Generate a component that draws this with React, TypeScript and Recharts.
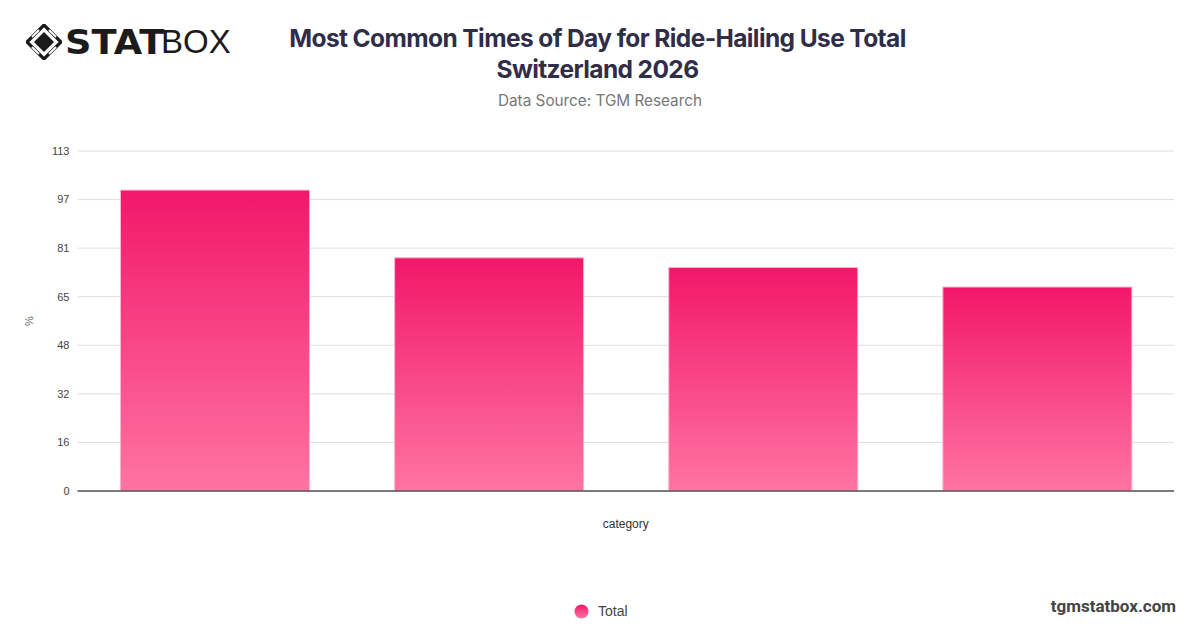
import React from 'react';
import { BarChart, Bar, XAxis, YAxis, CartesianGrid } from 'recharts';

const categories = ['Morning', 'Afternoon', 'Evening', 'Night'];
const totalValues = [100, 77.5, 74.3, 67.8];
const yTicks = [0, 16.14, 32.29, 48.43, 64.57, 80.71, 96.86, 113];

const chartData = categories.map((name, i) => ({ name, Total: totalValues[i] }));

const Logo = () => (
  <div style={{ position: 'absolute', left: 26, top: 22, display: 'flex', alignItems: 'center' }}>
    <svg width="36" height="36" viewBox="0 0 36 36">
      <path d="M18 1 L35 18 L18 35 L1 18 Z" fill="none" stroke="#1b1b1b" strokeWidth="3.2" />
      <path d="M18 8 L28 18 L18 28 L8 18 Z" fill="#1b1b1b" />
      <path d="M6 13 L13 6 M30 13 L23 6 M6 23 L13 30 M30 23 L23 30" stroke="#fff" strokeWidth="2" />
    </svg>
    <span style={{ fontFamily: '"DejaVu Sans", sans-serif', fontWeight: 900, fontSize: 34, color: '#1b1b1b', marginLeft: 3, letterSpacing: 0, display: 'inline-block', transform: 'scaleX(1.08)', transformOrigin: 'left center', width: 96 }}>STAT</span>
    <span style={{ fontFamily: '"Liberation Sans", sans-serif', fontWeight: 300, fontSize: 33, color: '#1b1b1b', marginLeft: 0 }}>BOX</span>
  </div>
);

const YLabel = ({ viewBox }: any) => (
  <text
    x={viewBox.x + 11}
    y={viewBox.y + viewBox.height / 2}
    transform={`rotate(-90 ${viewBox.x + 11} ${viewBox.y + viewBox.height / 2})`}
    textAnchor="middle"
    dominantBaseline="central"
    fontSize={11}
    fill="#666"
    fontFamily='"Liberation Sans", sans-serif'
  >
    %
  </text>
);

export default function App() {
  return (
    <div style={{ position: 'absolute', left: 0, top: 0, width: 1200, height: 628, background: '#fff', overflow: 'hidden' }}>
      <Logo />
      <div style={{ position: 'absolute', left: 0, top: 23, width: 1195, textAlign: 'center', fontFamily: 'Inter, sans-serif', fontWeight: 700, fontSize: 24.5, lineHeight: '31px', color: '#2f2d48', letterSpacing: -0.6 }}>
        Most Common Times of Day for Ride-Hailing Use Total
        <br />
        Switzerland 2026
      </div>
      <div style={{ position: 'absolute', left: 0, top: 91, width: 1200, textAlign: 'center', fontFamily: 'Inter, sans-serif', fontSize: 15.3, color: '#777' }}>
        Data Source: TGM Research
      </div>

      <div style={{ position: 'absolute', left: 0, top: 0 }}>
        <BarChart
          width={1200}
          height={628}
          data={chartData}
          margin={{ top: 151, right: 26, bottom: 92, left: 17.5 }}
          barSize={189}
        >
          <defs>
            <linearGradient id="pinkGrad" x1="0" y1="0" x2="0" y2="1">
              <stop offset="0%" stopColor="#f2176a" />
              <stop offset="100%" stopColor="#ff74a2" />
            </linearGradient>
          </defs>
          <CartesianGrid vertical={false} stroke="#dedede" />
          <XAxis
            dataKey="name"
            tick={false}
            tickLine={false}
            axisLine={{ stroke: '#555', strokeWidth: 1.5 }}
            height={45}
            label={{ value: 'category', position: 'insideBottom', offset: 8, fontSize: 12, fill: '#333', fontFamily: '"Liberation Sans", sans-serif' }}
          />
          <YAxis
            domain={[0, 113]}
            ticks={yTicks}
            tickFormatter={(v) => `${Math.round(v)}`}
            tick={{ fontSize: 11, fill: '#444', fontFamily: '"Liberation Sans", sans-serif' }}
            tickLine={false}
            axisLine={false}
            width={60}
            label={<YLabel />}
          />
          <Bar dataKey="Total" fill="url(#pinkGrad)" stroke="#ffb3cf" strokeWidth={1} isAnimationActive={false} />
        </BarChart>
      </div>

      <div style={{ position: 'absolute', left: 574, top: 603, display: 'flex', alignItems: 'center', fontFamily: '"Liberation Sans", sans-serif', fontSize: 14, color: '#444' }}>
        <svg width="15" height="15">
          <defs>
            <linearGradient id="legGrad" x1="0" y1="0" x2="0" y2="1">
              <stop offset="0%" stopColor="#f2176a" />
              <stop offset="100%" stopColor="#ff74a2" />
            </linearGradient>
          </defs>
          <circle cx="7.5" cy="7.5" r="7" fill="url(#legGrad)" />
        </svg>
        <span style={{ marginLeft: 9 }}>Total</span>
      </div>
      <div style={{ position: 'absolute', right: 24, top: 596, fontFamily: 'Roboto, sans-serif', fontWeight: 700, fontSize: 17, color: '#444' }}>
        tgmstatbox.com
      </div>
    </div>
  );
}
